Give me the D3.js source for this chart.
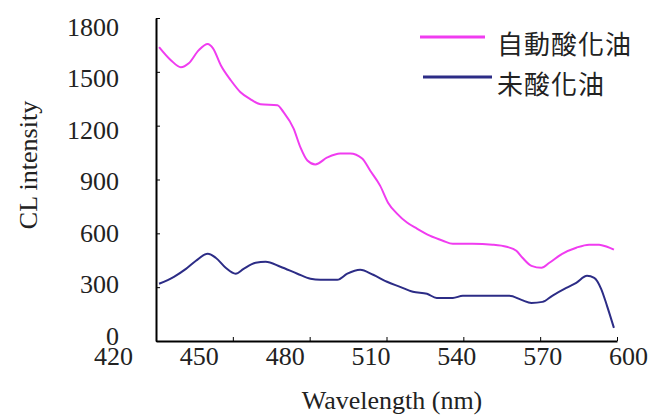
<!DOCTYPE html>
<meta charset="utf-8">
<style>
body { margin: 0; background: #fff; }
.axis path, .axis line { stroke: #000; }
.title { font-family: "Liberation Serif", serif; font-size: 26px; fill: #222; }
.legend text { font-family: "Noto Sans CJK TC", sans-serif; font-size: 26px; fill: #222; }
</style>
<svg width="662" height="416"></svg>
<script src="https://d3js.org/d3.v7.min.js"></script>
<script>

// wavelength (nm) and CL intensity
var oxNm = [421.2, 425.8, 429.7, 432.8, 436.7, 440.2, 442.2, 445.3, 449.2, 453.0, 456.9, 460.8, 467.4, 469.8,
  473.7, 476.4, 479.1, 482.2, 486.9, 491.9, 495.8, 500.5, 503.6, 507.5, 510.6, 514.1, 518.0, 521.9, 526.9,
  532.0, 535.9, 543.6, 551.4, 556.9, 560.7, 563.1, 566.6, 570.5, 573.6, 578.6, 584.1, 589.1, 593.0, 596.1, 598.8];
var oxVal = [1638, 1565, 1526, 1548, 1621, 1655, 1632, 1537, 1453, 1386, 1347, 1319, 1314, 1275,
  1185, 1079, 1006, 984, 1023, 1045, 1045, 1017, 950, 866, 771, 710, 660, 626, 587,
  559, 542, 542, 537, 525, 503, 464, 419, 408, 436, 486, 520, 537, 537, 525, 509];

var freshNm = [421.2, 427.0, 431.7, 435.6, 440.2, 443.3, 447.2, 451.1, 454.2, 458.9, 462.8, 468.6, 475.2, 480.3,
  484.2, 490.8, 494.7, 499.7, 504.8, 510.2, 515.3, 520.3, 525.8, 529.6, 535.9, 539.8, 550.2, 558.0, 562.7,
  566.6, 570.9, 574.7, 580.2, 584.1, 588.3, 591.1, 593.8, 596.1, 598.8];
var freshVal = [319, 358, 402, 447, 486, 464, 408, 375, 402, 436, 442, 414, 375, 347,
  341, 341, 375, 397, 369, 330, 302, 274, 263, 240, 240, 252, 252, 252, 229,
  212, 218, 252, 296, 324, 363, 352, 291, 196, 73];

var xTicks = [420, 450, 480, 510, 540, 570, 600];
var yTicks = [0, 300, 600, 900, 1200, 1500, 1800];
var seriesNames = ["自動酸化油", "未酸化油"];
var colors = ["#f03cf0", "#2c2c86"];

var svg = d3.select("svg");

var x = d3.scaleLinear().domain([420, 600]).range([156, 617]);
var y = d3.scaleLinear().domain([0, 1800]).range([341, 18]);

// the tick labels sit a little off the tick marks in the original
var xLab = d3.scaleLinear().domain([420, 600]).range([113, 628]);
var yLab = d3.scaleLinear().domain([0, 1800]).range([336, 27]);

function serifText(g) {
  g.attr("font-family", "Liberation Serif, serif").attr("font-size", 26);
  g.selectAll("text")
      .style("font-family", "'Liberation Serif', serif")
      .style("font-size", "26px")
      .attr("fill", "#222");
  g.select(".domain").remove();
}

// tick marks
svg.append("g")
    .attr("class", "axis")
    .attr("transform", "translate(0,341)")
    .call(d3.axisBottom(x).tickValues(xTicks).tickSizeInner(-4).tickSizeOuter(0).tickFormat(""))
    .call(function(g) { g.select(".domain").attr("stroke-width", 2); });

svg.append("g")
    .attr("class", "axis")
    .attr("transform", "translate(156,0)")
    .call(d3.axisLeft(y).tickValues(yTicks).tickSizeInner(-4).tickSizeOuter(0).tickFormat(""))
    .call(function(g) { g.select(".domain").attr("stroke-width", 2); });

// tick labels
svg.append("g")
    .attr("transform", "translate(0,343)")
    .call(d3.axisBottom(xLab).tickValues(xTicks).tickSize(0).tickPadding(4).tickFormat(d3.format("d")))
    .call(serifText);

svg.append("g")
    .attr("transform", "translate(119,0)")
    .call(d3.axisLeft(yLab).tickValues(yTicks).tickSize(0).tickPadding(0).tickFormat(d3.format("d")))
    .call(serifText);

svg.append("text")
    .attr("class", "title")
    .attr("x", 392)
    .attr("y", 409)
    .attr("text-anchor", "middle")
    .text("Wavelength  (nm)");

svg.append("text")
    .attr("class", "title")
    .attr("transform", "translate(37,165) rotate(-90)")
    .attr("text-anchor", "middle")
    .text("CL intensity");

var line = d3.line()
    .x(function(d) { return x(d[0]); })
    .y(function(d) { return y(d[1]); })
    .curve(d3.curveMonotoneX);

var series = [d3.zip(oxNm, oxVal), d3.zip(freshNm, freshVal)];

svg.append("g")
  .selectAll("path")
  .data(series)
  .enter().append("path")
    .attr("fill", "none")
    .attr("stroke", function(d, i) { return colors[i]; })
    .attr("stroke-width", 2)
    .attr("d", line);

// legend
var legend = svg.append("g")
    .attr("class", "legend")
  .selectAll("g")
  .data(seriesNames)
  .enter().append("g")
    .attr("transform", function(d, i) { return "translate(0," + (i * 40) + ")"; });

legend.append("line")
    .attr("x1", function(d, i) { return i ? 423 : 420; })
    .attr("x2", function(d, i) { return i ? 492 : 485; })
    .attr("y1", 37)
    .attr("y2", 37)
    .attr("stroke", function(d, i) { return colors[i]; })
    .attr("stroke-width", 3);

legend.append("text")
    .attr("x", 497)
    .attr("y", 47)
    .attr("dominant-baseline", "middle")
    .attr("letter-spacing", 1)
    .text(function(d) { return d; });

</script>
